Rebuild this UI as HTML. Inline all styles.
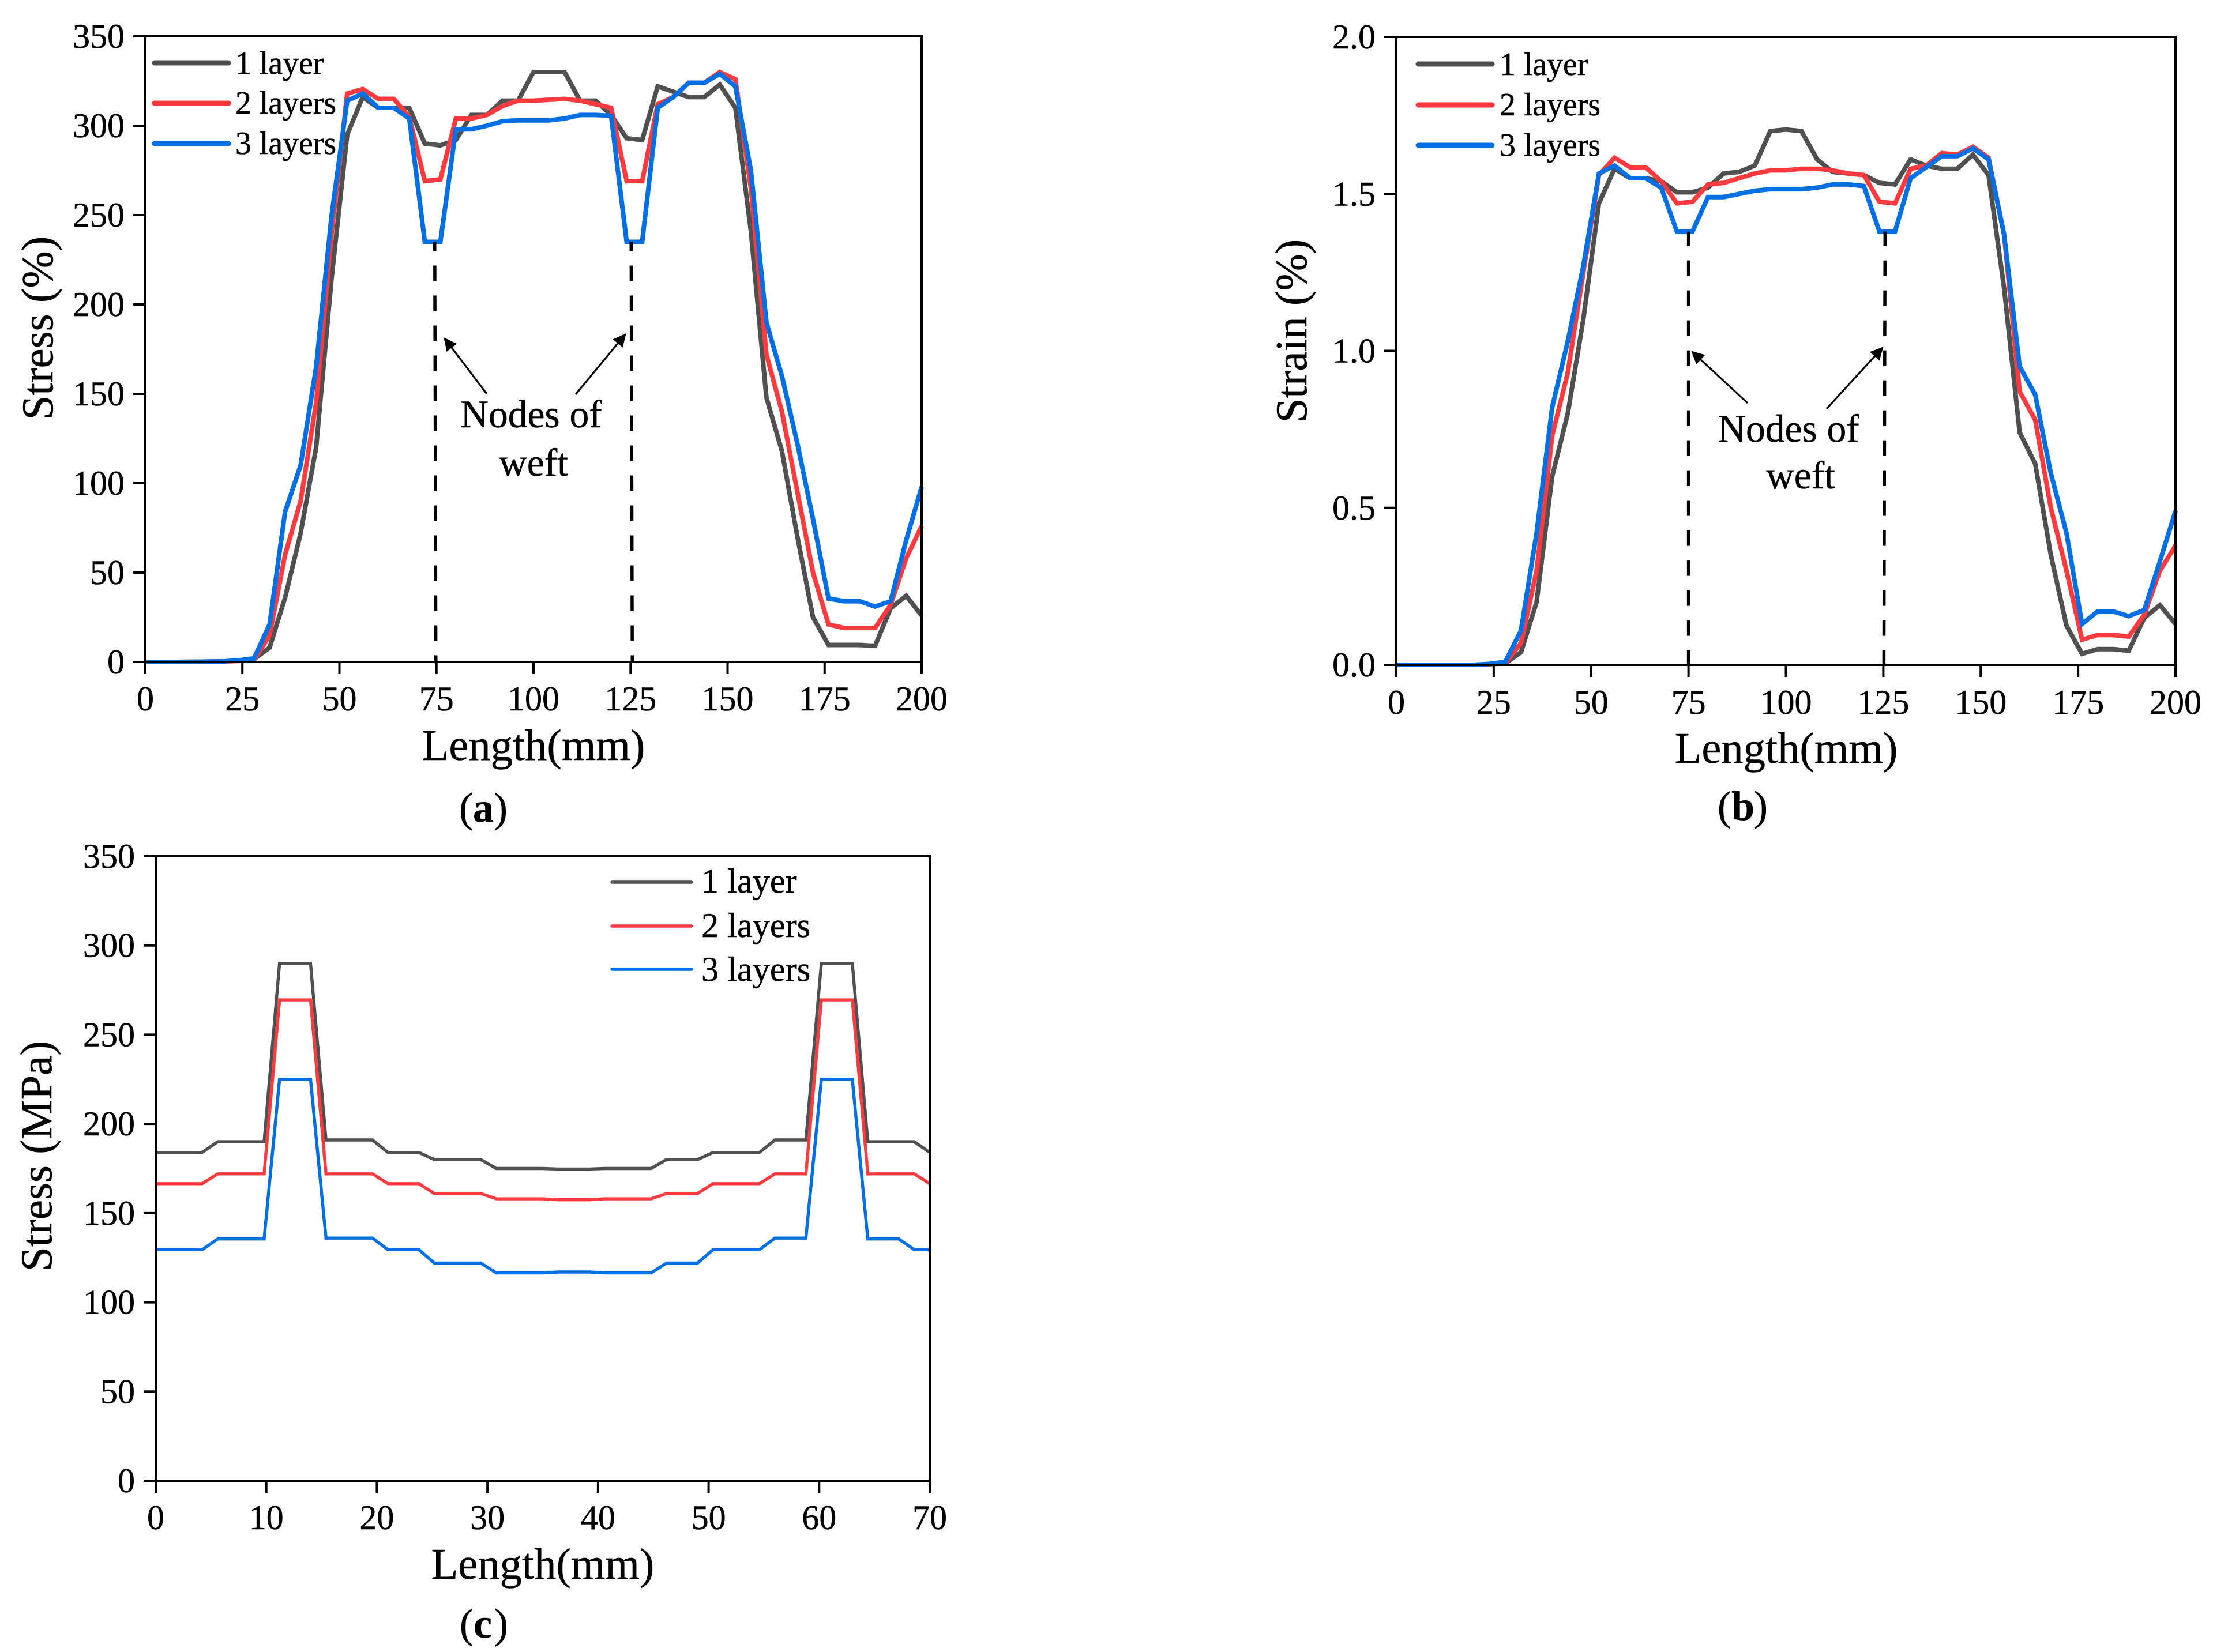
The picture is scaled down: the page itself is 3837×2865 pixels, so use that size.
<!DOCTYPE html>
<html lang="en">
<head>
<meta charset="utf-8">
<title>Stress and strain versus length for 1, 2 and 3 layers</title>
<style>
html,body{margin:0;padding:0;background:#fff;}
svg{display:block;}
text{font-family:"Liberation Serif",serif;fill:#000;stroke:#000;stroke-width:0.5px;}
</style>
</head>
<body>
<svg id="figure" xmlns="http://www.w3.org/2000/svg" width="3837" height="2865" viewBox="0 0 3837 2865">
<defs>
<marker id="arrow-head" viewBox="0 0 10 10" refX="9" refY="5" markerWidth="9" markerHeight="7" markerUnits="strokeWidth" orient="auto">
<path d="M0 0L10 5L0 10z" fill="#000"/>
</marker>
</defs>
<rect width="3837" height="2865" fill="#fff"/>
</svg>
<script>
// Panel (a) and (b) share one sampling grid, 4 mm apart.
const lengthAB = [0,4,8,12,16,20,24,28,32,36,40,44,48,52,56,60,64,68,72,76,80,84,88,92,96,100,104,108,112,116,120,124,128,132,136,140,144,148,152,156,160,164,168,172,176,180,184,188,192,196,200];
const stressA1 = [0,0,0,0.1,0.2,0.3,0.8,1.5,8,36,72,120,215,295,316,310,310,310,290,289,292,306,306,314,314,330,330,330,314,314,306,293,292,322,319,316,316,323,310,241,148,118,70,25,9.5,9.5,9.5,9,30,37,26];
const stressA2 = [0,0,0,0.1,0.2,0.3,0.6,1,15,60,90,145,240,318,320.5,315,315,305,269,270,304,304,306,311,314,314,314.5,315,314,312,310,269,269,312,316,324,324,330,326,265,172,140,95,50,21,19,19,19,32,58,76];
const stressA3 = [0,0,0,0.1,0.2,0.3,0.9,2,21,84,110,165,250,314,318,310,310,304,235,235,298,298,300,302.5,303,303,303,304,306,306,305.5,235,235,310,316,324,324,329,322,275,190,160,122,80,35.5,34,34,31,34,68,98];

const strainB1 = [0,0,0,0,0,0,0.002,0.005,0.04,0.2,0.6,0.8,1.1,1.47,1.58,1.55,1.55,1.54,1.505,1.505,1.52,1.565,1.57,1.59,1.7,1.705,1.7,1.61,1.57,1.565,1.56,1.535,1.53,1.61,1.59,1.58,1.58,1.625,1.56,1.2,0.74,0.64,0.35,0.125,0.035,0.05,0.05,0.045,0.15,0.19,0.13];
const strainB2 = [0,0,0,0,0,0,0.002,0.005,0.07,0.3,0.73,0.93,1.25,1.56,1.615,1.585,1.585,1.54,1.47,1.475,1.53,1.535,1.55,1.565,1.575,1.575,1.58,1.58,1.575,1.565,1.56,1.475,1.47,1.58,1.59,1.63,1.625,1.65,1.615,1.37,0.87,0.78,0.5,0.3,0.08,0.095,0.095,0.09,0.16,0.3,0.38];
const strainB3 = [0,0,0,0,0,0,0.003,0.01,0.11,0.42,0.82,1.03,1.27,1.565,1.59,1.55,1.55,1.52,1.38,1.38,1.49,1.49,1.5,1.51,1.515,1.515,1.515,1.52,1.53,1.53,1.525,1.38,1.38,1.55,1.585,1.62,1.62,1.645,1.61,1.37,0.95,0.86,0.61,0.42,0.13,0.17,0.17,0.155,0.175,0.33,0.49];

// Panel (c) samples, 1.4 mm apart.
const lengthC = [0,1.4,2.8,4.2,5.6,7,8.4,9.8,11.2,12.6,14,15.4,16.8,18.2,19.6,21,22.4,23.8,25.2,26.6,28,29.4,30.8,32.2,33.6,35,36.4,37.8,39.2,40.6,42,43.4,44.8,46.2,47.6,49,50.4,51.8,53.2,54.6,56,57.4,58.8,60.2,61.6,63,64.4,65.8,67.2,68.6,70];
const stressC1 = [184,184,184,184,190,190,190,190,290,290,290,191,191,191,191,184,184,184,180,180,180,180,175,175,175,175,174.7,174.7,174.7,175,175,175,175,180,180,180,184,184,184,184,191,191,191,290,290,290,190,190,190,190,184];
const stressC2 = [166.5,166.5,166.5,166.5,172,172,172,172,269.5,269.5,269.5,172,172,172,172,166.5,166.5,166.5,161,161,161,161,158,158,158,158,157.5,157.5,157.5,158,158,158,158,161,161,161,166.5,166.5,166.5,166.5,172,172,172,269.5,269.5,269.5,172,172,172,172,166.5];
const stressC3 = [129.5,129.5,129.5,129.5,135.5,135.5,135.5,135.5,225,225,225,136,136,136,136,129.5,129.5,129.5,122,122,122,122,116.5,116.5,116.5,116.5,117,117,117,116.5,116.5,116.5,116.5,122,122,122,129.5,129.5,129.5,129.5,136,136,136,225,225,225,135.5,135.5,135.5,129.5,129.5];

const ticksX200 = [0,25,50,75,100,125,150,175,200];
const ticksX70 = [0,10,20,30,40,50,60,70];
const ticksYStress = [0,50,100,150,200,250,300,350];
const ticksYStrain = [0,0.5,1,1.5,2];
const seriesNames = ['1 layer','2 layers','3 layers'];
const seriesColors = ['#505050','#ff3b40','#006fe3'];
const nodeLengths = [75,125];

const svg = document.getElementById('figure');
const NS = 'http://www.w3.org/2000/svg';

function makeEl(tag, name, props, parent) {
  const el = document.createElementNS(NS, tag);
  
  
  for (const key in props) el.setAttribute(key, props[key]);
  (parent || svg).appendChild(el);
  return el;
}
function makeText(name, str, props, parent) {
  const el = makeEl('text', name, props, parent);
  el.textContent = str;
  return el;
}

function drawPanel(p) {
  const g = makeEl('g', p.id, {});
  const sx = v => p.left + (v - p.xMin) / (p.xMax - p.xMin) * (p.right - p.left);
  const sy = v => p.bottom - (v - p.yMin) / (p.yMax - p.yMin) * (p.bottom - p.top);

  p.series.forEach((vals, s) => {
    const pts = vals.map((v, i) => sx(p.xs[i]).toFixed(1) + ',' + sy(v).toFixed(1)).join(' ');
    makeEl('polyline', 'series-' + (s + 1) + '-layer-line', {
      points: pts, fill: 'none', stroke: seriesColors[s],
      'stroke-width': p.lineWidth, 'stroke-linejoin': 'miter', 'stroke-miterlimit': 3
    }, g);
  });

  if (p.nodeTop !== undefined) {
    nodeLengths.forEach((n, i) => {
      makeEl('line', 'weft-node-marker-' + n, {
        x1: sx(n) + p.nodeNudge[i] - p.nodeLean[i], x2: sx(n) + p.nodeNudge[i], y1: sy(p.nodeTop), y2: p.bottom,
        stroke: '#000', 'stroke-width': 5.5, 'stroke-dasharray': '27 25', 'stroke-dashoffset': p.dashOffset
      }, g);
    });
  }

  makeEl('rect', 'plot-frame', {
    x: p.left, y: p.top, width: p.right - p.left, height: p.bottom - p.top,
    fill: 'none', stroke: '#000', 'stroke-width': 4
  }, g);

  p.xTicks.forEach(t => {
    makeEl('line', 'x-tick-' + t, { x1: sx(t), x2: sx(t), y1: p.bottom, y2: p.bottom + 21, stroke: '#000', 'stroke-width': 4 }, g);
    makeText('x-tick-label-' + t, String(t), { x: sx(t), y: p.xLabelY, 'text-anchor': 'middle', 'font-size': 60 }, g);
  });
  p.yTicks.forEach(t => {
    makeEl('line', 'y-tick-' + t, { x1: p.left - 21, x2: p.left, y1: sy(t), y2: sy(t), stroke: '#000', 'stroke-width': 4 }, g);
    makeText('y-tick-label-' + t, p.yFormat(t), { x: p.yLabelX, y: sy(t) + 20, 'text-anchor': 'end', 'font-size': 60 }, g);
  });

  makeText('x-axis-title', 'Length(mm)', {
    x: p.xTitle[0], y: p.xTitle[1], 'text-anchor': 'middle', 'font-size': 76.5
  }, g);
  makeText('y-axis-title', p.yTitleText, {
    transform: 'translate(' + p.yTitle[0] + ' ' + p.yTitle[1] + ') rotate(-90)',
    'text-anchor': 'middle', 'font-size': 77
  }, g);

  seriesNames.forEach((nm, s) => {
    makeEl('line', 'legend-line-' + (s + 1), {
      x1: p.legend.x1, x2: p.legend.x2, y1: p.legend.lineY[s], y2: p.legend.lineY[s],
      stroke: seriesColors[s], 'stroke-width': p.legend.width, 'stroke-linecap': 'round'
    }, g);
    makeText('legend-label-' + (s + 1), nm, {
      x: p.legend.textX, y: p.legend.textY[s], 'font-size': p.legend.size
    }, g);
  });

  makeText('panel-caption', '(', { x: p.caption[0] - 41, y: p.caption[1], 'font-size': 72 }, g);
  makeText('panel-caption-letter', p.letter, { x: p.caption[0] - 17, y: p.caption[1], 'font-size': 72, 'font-weight': 'bold' }, g);
  makeText('panel-caption-close', ')', { x: p.caption[0] + (p.letter === 'b' ? 22 : 19), y: p.caption[1], 'font-size': 72 }, g);

  if (p.note) {
    makeText('nodes-of-weft-label-line-1', 'Nodes of', { x: p.note.l1[0], y: p.note.l1[1], 'text-anchor': 'middle', 'font-size': 67.5 }, g);
    makeText('nodes-of-weft-label-line-2', 'weft', { x: p.note.l2[0], y: p.note.l2[1], 'text-anchor': 'middle', 'font-size': 67.5 }, g);
    p.note.arrows.forEach((a, i) => {
      makeEl('line', 'nodes-of-weft-arrow-' + (i + 1), {
        x1: a[0], y1: a[1], x2: a[2], y2: a[3], stroke: '#000', 'stroke-width': 3.2, 'marker-end': 'url(#arrow-head)'
      }, g);
    });
  }
}

drawPanel({
  id: 'panel-a', letter: 'a', left: 252, right: 1598, top: 63, bottom: 1148,
  xMin: 0, xMax: 200, yMin: 0, yMax: 350, xs: lengthAB,
  series: [stressA1, stressA2, stressA3], lineWidth: 8,
  xTicks: ticksX200, yTicks: ticksYStress, yFormat: t => String(t),
  xLabelY: 1232, yLabelX: 216, xTitle: [925, 1318], yTitle: [91, 569], yTitleText: 'Stress (%)',
  nodeTop: 235, nodeNudge: [-1, 3], nodeLean: [2, 2], dashOffset: 11,
  legend: { x1: 268, x2: 396, lineY: [109, 179, 249], textX: 408, textY: [128, 197, 267], size: 55.8, width: 9 },
  caption: [837, 1425],
  note: { l1: [921, 741], l2: [925, 825], arrows: [[844, 683, 771, 587], [998, 684, 1084, 580]] }
});

drawPanel({
  id: 'panel-b', letter: 'b', left: 2421, right: 3772, top: 64, bottom: 1153,
  xMin: 0, xMax: 200, yMin: 0, yMax: 2, xs: lengthAB,
  series: [strainB1, strainB2, strainB3], lineWidth: 8,
  xTicks: ticksX200, yTicks: ticksYStrain, yFormat: t => t.toFixed(1),
  xLabelY: 1238, yLabelX: 2385, xTitle: [3097, 1323], yTitle: [2265, 574], yTitleText: 'Strain (%)',
  nodeTop: 1.38, nodeNudge: [0, 1], nodeLean: [0, -2], dashOffset: 2,
  legend: { x1: 2459, x2: 2587, lineY: [111, 182, 252], textX: 2600, textY: [130, 200, 270], size: 55.8, width: 9 },
  caption: [3019, 1422],
  note: { l1: [3101, 766], l2: [3122, 847], arrows: [[3030, 699, 2934, 610], [3167, 709, 3264, 603]] }
});

drawPanel({
  id: 'panel-c', letter: 'c', left: 270, right: 1612, top: 1485, bottom: 2568,
  xMin: 0, xMax: 70, yMin: 0, yMax: 350, xs: lengthC,
  series: [stressC1, stressC2, stressC3], lineWidth: 5.4,
  xTicks: ticksX70, yTicks: ticksYStress, yFormat: t => String(t),
  xLabelY: 2652, yLabelX: 234, xTitle: [941, 2738], yTitle: [89, 2005], yTitleText: 'Stress (MPa)',
  legend: { x1: 1061, x2: 1199, lineY: [1530, 1606, 1681], textX: 1216, textY: [1548, 1625, 1701], size: 60.3, width: 5.4 },
  caption: [838, 2840]
});
</script>
</body>
</html>
